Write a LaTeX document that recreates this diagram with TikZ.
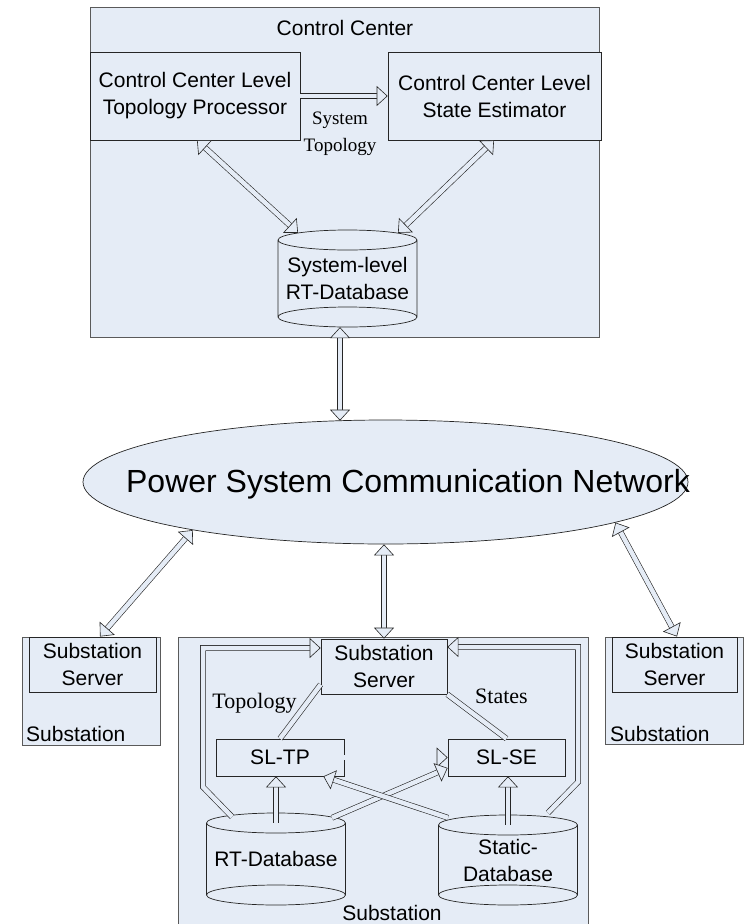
\documentclass[tikz,border=0pt]{standalone}
\usepackage{fontspec}
\setmainfont{Liberation Sans}
\newfontfamily\serifface{Liberation Serif}
\usetikzlibrary{arrows.meta,shapes.geometric}

\definecolor{boxfill}{RGB}{229,236,246}
\definecolor{edgegray}{RGB}{90,90,90}

% database drum: centre x, centre y, half height
\newcommand{\dbbody}[3]{%
	\fill[boxfill] (#1-69.5,#2-#3) rectangle (#1+69.5,#2+#3)
		(#1,#2-#3) ellipse [x radius=69.5pt, y radius=10pt]
		(#1,#2+#3) ellipse [x radius=69.5pt, y radius=10pt];
	\draw[draw=black!85, line width=0.7pt] (#1,#2-#3) ellipse [x radius=69.5pt, y radius=10pt]
		(#1,#2+#3) ellipse [x radius=69.5pt, y radius=10pt]
		(#1-69.5,#2-#3) -- (#1-69.5,#2+#3)
		(#1+69.5,#2-#3) -- (#1+69.5,#2+#3);
}

\begin{document}
\begin{tikzpicture}[x=1pt, y=-1pt,
	every node/.style={font=\fontsize{21}{27}\selectfont, inner sep=0pt, align=center},
	bigbox/.style={draw=edgegray, fill=boxfill, line width=0.9pt},
	unit/.style={draw=black!85, fill=boxfill, line width=0.7pt},
	dbtext/.style={minimum width=139pt},
	note/.style={font=\serifface\fontsize{19}{27}\selectfont},
	blk/.style={draw=black!85, line width=0.6pt, double=boxfill, double distance=4.5pt},
	blkone/.style={blk, -{Triangle[fill=boxfill, length=11pt 0 0, width=20pt 0 0, line width=0.6pt 0 0]}},
	blktwo/.style={blk, {Triangle[fill=boxfill, length=11pt 0 0, width=20pt 0 0, line width=0.6pt 0 0]}-{Triangle[fill=boxfill, length=11pt 0 0, width=20pt 0 0, line width=0.6pt 0 0]}}]

	\useasboundingbox (0,0) rectangle (751,924);
	\clip (0,0) rectangle (751,924);

	% containers
	\path (344.5,172) node[bigbox, minimum width=509pt, minimum height=330pt] (cc) {}
		(383,783.5) node[bigbox, minimum width=410pt, minimum height=293pt] (subm) {}
		(91,691) node[bigbox, minimum width=138pt, minimum height=108pt] (subl) {}
		(674,690.5) node[bigbox, minimum width=138pt, minimum height=107pt] (subr) {};

	\path (345,35) node[anchor=base] (cctitle) {Control Center}
		(26,741) node[anchor=base west] (subltitle) {Substation}
		(610,741) node[anchor=base west] (subrtitle) {Substation}
		(392,920) node[anchor=base] (submtitle) {Substation};

	% control centre
	\path (195,96) node[unit, minimum width=210pt, minimum height=88pt] (tp) {Control Center Level\\Topology Processor}
		(494.5,96) node[unit, minimum width=213pt, minimum height=88pt] (se) {Control Center Level\\State Estimator}
		(340,134) node[note] (systopo) {System\\Topology};

	\dbbody{347.5}{278.5}{38.5}
	\path (347.5,278.5) node[dbtext, minimum height=77pt] (sysdb) {System-level\\RT-Database};

	% network
	\path (385.5,482) node[ellipse, draw=black!85, fill=boxfill, line width=0.7pt, minimum width=605pt, minimum height=124pt] (net) {}
		(408,492) node[anchor=base, font=\fontsize{32}{38}\selectfont] (nettext) {Power System Communication Network};

	% substations
	\path (92.5,664.5) node[unit, minimum width=127pt, minimum height=55pt] (serverl) {Substation\\Server}
		(674.5,664.5) node[unit, minimum width=125pt, minimum height=55pt] (serverr) {Substation\\Server}
		(384,666.5) node[unit, minimum width=126pt, minimum height=55pt] (server) {Substation\\Server}
		(280,757.5) node[unit, minimum width=128pt, minimum height=37pt] (sltp) {SL-TP}
		(506.5,757.5) node[unit, minimum width=117pt, minimum height=37pt] (slse) {SL-SE}
		(254.5,708) node[note, anchor=base, font=\serifface\fontsize{22}{27}\selectfont] (topo) {Topology}
		(501.5,703) node[note, anchor=base, font=\serifface\fontsize{22}{27}\selectfont] (states) {States};

	\dbbody{276}{859}{36}
	\dbbody{508}{860}{35}
	\path (276,859) node[dbtext, minimum height=72pt] (rtdb) {RT-Database}
		(508,860) node[dbtext, minimum height=70pt] (stdb) {Static-\\Database};

	% block arrows
	\draw[blkone] (tp.east) -- (se.west);
	\draw[blktwo] ([xshift=2pt]tp.south) -- ([xshift=-49.5pt,yshift=7pt]sysdb.north);
	\draw[blktwo] ([xshift=-0.5pt]se.south) -- ([xshift=50.5pt,yshift=7pt]sysdb.north);
	\draw[blktwo] ([xshift=-7.5pt,yshift=-10pt]sysdb.south) -- ([xshift=-45.5pt,yshift=-1pt]net.north);

	\draw[blktwo] (net.194) -- ([xshift=9pt]subl.north);
	\draw[blktwo] (net.350) -- ([xshift=3pt]subr.north);
	\draw[blktwo] (net.south -| server.north) -- (server.north);

	\draw[blkone] (sltp.east) -- (slse.west);
	\draw[blkone] (rtdb.north) -- (rtdb.north |- sltp.south);
	\draw[blkone] (stdb.north) -- ([xshift=1.5pt]slse.south);
	\draw[blkone] ([xshift=56pt,yshift=5pt]rtdb.north) -- ([yshift=-10.5pt]slse.west);
	\draw[blkone] ([xshift=-60pt,yshift=7pt]stdb.north) -- ([xshift=-21pt]sltp.south east);
	\draw[blk] (sltp.north) -- ([yshift=-18pt]server.west);
	\draw[blk] (slse.north) -- (server.south east);
	\draw[blkone] ([xshift=-44pt,yshift=6pt]rtdb.north) -- (203,787) |- ([yshift=18.5pt]server.west);
	\draw[blkone] ([xshift=40pt,yshift=12pt]stdb.north) -- (578,782) |- ([yshift=19.5pt]server.east);
\end{tikzpicture}
\end{document}
